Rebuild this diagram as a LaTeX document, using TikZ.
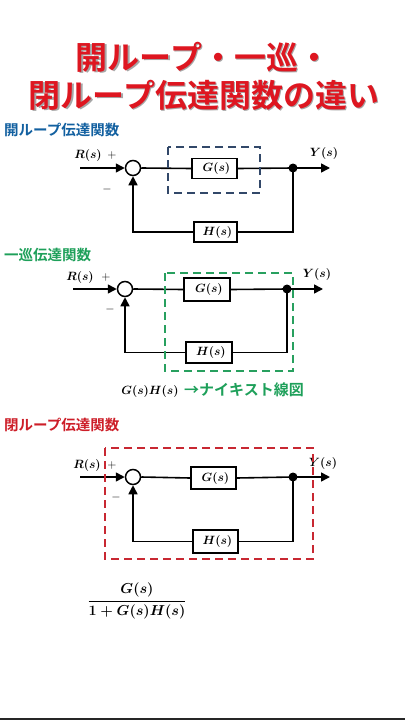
\documentclass[tikz,border=0pt]{standalone}
\usepackage{amsmath}
\usepackage{fontspec}
\newfontfamily\cjk{Noto Sans CJK JP}[BoldFont={Noto Sans CJK JP Bold}]
\usetikzlibrary{arrows.meta}
\definecolor{titlered}{RGB}{222,22,32}
\definecolor{secblue}{RGB}{18,96,160}
\definecolor{secgreen}{RGB}{30,160,90}
\definecolor{secred}{RGB}{205,30,40}
\definecolor{dashblue}{RGB}{50,72,105}
\definecolor{dashgreen}{RGB}{40,160,95}
\definecolor{dashred}{RGB}{200,40,50}
\tikzset{
  ln/.style={line width=1.6pt, black},
  arr/.style={ln, -{Triangle[length=9pt,width=9pt]}},
  sumc/.style={circle, draw, line width=1.5pt, minimum size=15pt, inner sep=0pt},
  dotc/.style={circle, fill=black, minimum size=9pt, inner sep=0pt},
  blk/.style={draw, line width=1.6pt, fill=white, inner sep=0pt, font=\fontsize{13}{15}\selectfont\boldmath},
  mlab/.style={inner sep=0pt, font=\fontsize{13}{15}\selectfont\boldmath},
  sgn/.style={inner sep=0pt, font=\fontsize{12}{14}\selectfont},
  sec/.style={inner sep=0pt, anchor=west, font=\cjk\bfseries\fontsize{14.5}{16}\selectfont},
  ttl/.style={inner sep=0pt, font=\cjk\bfseries\fontsize{32}{36}\selectfont},
  dbox/.style={line width=1.8pt, dash pattern=on 8pt off 5pt},
}
\begin{document}
\begin{tikzpicture}[x=1pt,y=-1pt]
\useasboundingbox (0,0) rectangle (405,720);
\fill[white] (0,0) rectangle (405,720);
\fill[black!85] (0,718) rectangle (405,720);

% title
\node[ttl, text=black!35] at (204.5,58.5) {開ループ・一巡・};
\node[ttl, text=titlered] (t1) at (203,57) {開ループ・一巡・};
\node[ttl, text=black!35] at (205.5,96.5) {閉ループ伝達関数の違い};
\node[ttl, text=titlered] (t2) at (204,95) {閉ループ伝達関数の違い};

% ---------- diagram 1 ----------
\node[sec, text=secblue] (l1) at (4,130) {開ループ伝達関数};
\node[sumc] (s1) at (133,168) {};
\node[blk, minimum width=45pt, minimum height=20pt] (g1) at (214.5,168.5) {$\;G(s)$};
\node[dotc] (d1) at (293,168) {};
\node[blk, minimum width=43pt, minimum height=20pt] (h1) at (215.5,232) {$\;H(s)$};
\coordinate (i1) at (80,168);
\coordinate (e1) at (330,168);
\draw[arr] (i1) -- (s1.west);
\draw[ln] (s1.east) -- (g1.west);
\draw[ln] (g1.east) -- (d1.center);
\draw[arr] (d1.center) -- (e1);
\draw[ln] (d1.center) |- (h1.east);
\draw[arr] (h1.west) -| (s1.south);
\node[mlab] (r1) at (88,155) {$R(s)$};
\node[sgn] (p1) at (112,155) {$+$};
\node[sgn] (m1) at (107,189) {$-$};
\node[mlab] (y1) at (324,153) {$Y(s)$};
\draw[dbox, dashblue] (168,147) rectangle (260,193);

% ---------- diagram 2 ----------
\node[sec, text=secgreen] (l2) at (4,255) {一巡伝達関数};
\node[sumc] (s2) at (125,289) {};
\node[blk, minimum width=46pt, minimum height=23pt] (g2) at (207,289.5) {$\;G(s)$};
\node[dotc] (d2) at (287,289) {};
\node[blk, minimum width=46pt, minimum height=21pt] (h2) at (209,352.5) {$\;H(s)$};
\coordinate (i2) at (73,289);
\coordinate (e2) at (323,289);
\draw[arr] (i2) -- (s2.west);
\draw[ln] (s2.east) -- (g2.west);
\draw[ln] (g2.east) -- (d2.center);
\draw[arr] (d2.center) -- (e2);
\draw[ln] (d2.center) |- (h2.east);
\draw[arr] (h2.west) -| (s2.south);
\node[mlab] (r2) at (80,277) {$R(s)$};
\node[sgn] (p2) at (106,277) {$+$};
\node[sgn] (m2) at (110,309) {$-$};
\node[mlab] (y2) at (317,274) {$Y(s)$};
\draw[dbox, dashgreen] (165,273) rectangle (293,371);
\node[mlab] (gh) at (150,391) {$G(s)H(s)$};
\node[inner sep=0pt, anchor=west, text=secgreen, font=\cjk\bfseries\fontsize{15}{17}\selectfont] (ny) at (184,390) {→ナイキスト線図};

% ---------- diagram 3 ----------
\node[sec, text=secred] (l3) at (4,425) {閉ループ伝達関数};
\node[sumc] (s3) at (133,477) {};
\node[blk, minimum width=45pt, minimum height=22pt] (g3) at (213.5,478) {$\;G(s)$};
\node[dotc] (d3) at (293,477) {};
\node[blk, minimum width=45pt, minimum height=23pt] (h3) at (215.5,541.5) {$\;H(s)$};
\coordinate (i3) at (80,477);
\coordinate (e3) at (330,477);
\draw[arr] (i3) -- (s3.west);
\draw[ln] (s3.east) -- (g3.west);
\draw[ln] (g3.east) -- (d3.center);
\draw[arr] (d3.center) -- (e3);
\draw[ln] (d3.center) |- (h3.east);
\draw[arr] (h3.west) -| (s3.south);
\node[mlab] (r3) at (87,465) {$R(s)$};
\node[sgn] (p3) at (112,465) {$+$};
\node[sgn] (m3) at (116,497) {$-$};
\node[mlab] (y3) at (323,463) {$Y(s)$};
\draw[dbox, dashred] (105,448) rectangle (313,559);

% fraction
\node[inner sep=0pt, font=\fontsize{15}{18}\selectfont\boldmath] (fr) at (137,601) {$\dfrac{G(s)}{1+G(s)H(s)}$};
\end{tikzpicture}
\end{document}
